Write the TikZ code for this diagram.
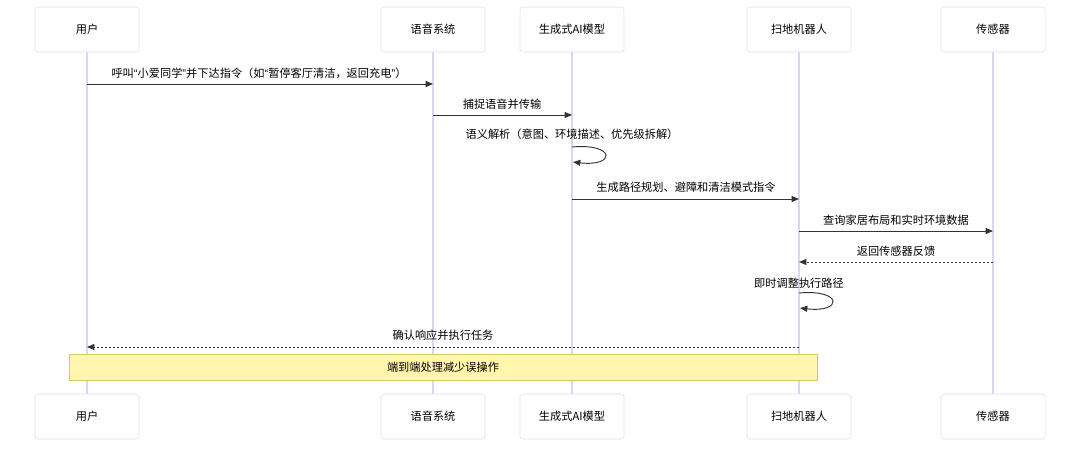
\documentclass[tikz,border=0pt]{standalone}
\usepackage{fontspec}
\setmainfont{Noto Sans CJK SC}
\newfontfamily\qfont{Liberation Sans}
\newcommand{\oq}{{\qfont “}}
\newcommand{\cq}{{\qfont ”}}
\usetikzlibrary{arrows.meta}
\definecolor{lifec}{HTML}{DCD5F2}
\definecolor{boxc}{HTML}{E2DDF0}
\definecolor{msgc}{HTML}{333333}
\definecolor{notefill}{HTML}{FFF5AD}
\definecolor{notedraw}{HTML}{D2CB6A}
\begin{document}
\begin{tikzpicture}[x=0.75pt,y=-0.75pt,
  actor/.style={draw=boxc,fill=white,rounded corners=2pt,minimum width=78pt,minimum height=33.75pt,inner sep=0pt,font=\fontsize{8.4pt}{10pt}\selectfont,text=black},
  life/.style={draw=lifec,line width=0.8pt},
  msg/.style={draw=msgc,line width=0.7pt,-{Triangle[length=5.5pt,width=4.5pt]}},
  rmsg/.style={msg,dash pattern=on 1.5pt off 1.5pt},
  lbl/.style={font=\fontsize{8.4pt}{10pt}\selectfont,text=black,inner sep=0pt},
  notebox/.style={draw=notedraw,fill=notefill,line width=0.6pt,minimum width=561pt,minimum height=19.5pt,inner sep=0pt,font=\fontsize{8.4pt}{10pt}\selectfont}]
\useasboundingbox (0,0) rectangle (1080,455);
% actors top
\node[actor] (uT) at (87,29.5) {用户};
\node[actor] (vT) at (433,29.5) {语音系统};
\node[actor] (aT) at (572,29.5) {生成式AI模型};
\node[actor] (rT) at (799,29.5) {扫地机器人};
\node[actor] (sT) at (993,29.5) {传感器};
% actors bottom
\node[actor] (uB) at (87,416.5) {用户};
\node[actor] (vB) at (433,416.5) {语音系统};
\node[actor] (aB) at (572,416.5) {生成式AI模型};
\node[actor] (rB) at (799,416.5) {扫地机器人};
\node[actor] (sB) at (993,416.5) {传感器};
% lifelines
\foreach \p in {u,v,a,r,s}{\draw[life] (\p T.south) -- (\p B.north);}
% message end points
\coordinate (m1a) at (87,84);  \coordinate (m1b) at (433,84);
\coordinate (m2a) at (433,115); \coordinate (m2b) at (572,115);
\coordinate (m3a) at (572,147); \coordinate (m3b) at (573,162);
\coordinate (m4a) at (572,199); \coordinate (m4b) at (799,199);
\coordinate (m5a) at (799,231); \coordinate (m5b) at (993,231);
\coordinate (m6a) at (993,262); \coordinate (m6b) at (799,262);
\coordinate (m7a) at (799,293); \coordinate (m7b) at (800,308);
\coordinate (m8a) at (799,347); \coordinate (m8b) at (87,347);
% messages
\draw[msg] (m1a) -- (m1b);
\node[lbl] (l1) at (259,73) {呼叫\oq 小爱同学\cq 并下达指令（如\oq 暂停客厅清洁，返回充电\cq）};
\draw[msg] (m2a) -- (m2b);
\node[lbl] (l2) at (502,104) {捕捉语音并传输};
\draw[msg] (m3a) .. controls (616,143) and (616,167) .. (m3b);
\node[lbl] (l3) at (572,134) {语义解析（意图、环境描述、优先级拆解）};
\draw[msg] (m4a) -- (m4b);
\node[lbl] (l4) at (686,187) {生成路径规划、避障和清洁模式指令};
\draw[msg] (m5a) -- (m5b);
\node[lbl] (l5) at (896,220) {查询家居布局和实时环境数据};
\draw[rmsg] (m6a) -- (m6b);
\node[lbl] (l6) at (896,251) {返回传感器反馈};
\draw[msg] (m7a) .. controls (843,289) and (843,313) .. (m7b);
\node[lbl] (l7) at (799,283) {即时调整执行路径};
\draw[rmsg] (m8a) -- (m8b);
\node[lbl] (l8) at (443,335) {确认响应并执行任务};
% note
\node[notebox] (note) at (443,367) {端到端处理减少误操作};
\end{tikzpicture}
\end{document}
